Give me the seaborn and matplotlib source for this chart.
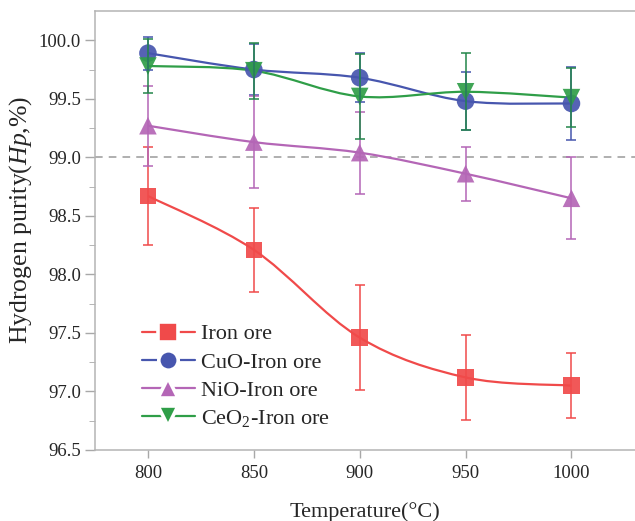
import numpy as np
import pandas as pd
import matplotlib
matplotlib.use("Agg")
import matplotlib.pyplot as plt
from matplotlib.path import Path
from matplotlib.patches import PathPatch
from matplotlib.lines import Line2D
import seaborn as sns

temps = [800, 850, 900, 950, 1000]
series_names = ["Iron ore", "CuO-Iron ore", "NiO-Iron ore", "CeO$_2$-Iron ore"]
iron = [98.67, 98.21, 97.46, 97.12, 97.05]
iron_err = [0.42, 0.36, 0.45, 0.36, 0.28]
cuo = [99.89, 99.75, 99.68, 99.48, 99.46]
cuo_err = [0.14, 0.22, 0.21, 0.25, 0.31]
nio = [99.27, 99.13, 99.04, 98.86, 98.65]
nio_err = [0.34, 0.39, 0.35, 0.23, 0.35]
ceo2 = [99.78, 99.74, 99.52, 99.56, 99.51]
ceo2_err = [0.23, 0.24, 0.36, 0.33, 0.25]
threshold = 99.0
yticks = [96.5, 97.0, 97.5, 98.0, 98.5, 99.0, 99.5, 100.0]

colors = ["#F04A4A", "#4756AE", "#B466B6", "#2F9E48"]
ecolors = ["#F04A4A", "#4756AE", "#B466B6", "#23864A"]
markers = ["s", "o", "^", "v"]
sizes = [140, 160, 160, 160]

sns.set_style("ticks")
plt.rcParams["font.family"] = ["Liberation Serif", "DejaVu Serif"]
plt.rcParams["mathtext.fontset"] = "custom"
plt.rcParams["mathtext.rm"] = "Liberation Serif"
plt.rcParams["mathtext.it"] = "Liberation Serif:italic"

vals = [iron, cuo, nio, ceo2]
errs = [iron_err, cuo_err, nio_err, ceo2_err]
df = pd.DataFrame({
    "T": temps * 4,
    "Hp": sum(vals, []),
    "err": sum(errs, []),
    "series": sum([[n] * len(temps) for n in series_names], []),
})

fig = plt.figure(figsize=(6.35, 5.21), dpi=100)
ax = fig.add_axes([0.1496, 0.1363, 0.8504, 0.8426])

ax.axhline(threshold, color="#9a9a9a", lw=1.1, ls=(0, (5, 4)), zorder=1)


def smooth_path(xs, ys):
    pts = np.column_stack([xs, ys]).astype(float)
    n = len(pts)
    verts = [pts[0]]
    codes = [Path.MOVETO]
    for i in range(n - 1):
        p0 = pts[i - 1] if i > 0 else pts[i]
        p1 = pts[i]
        p2 = pts[i + 1]
        p3 = pts[i + 2] if i + 2 < n else pts[i + 1]
        c1 = p1 + (p2 - p0) / 6.0
        c2 = p2 - (p3 - p1) / 6.0
        verts += [c1, c2, p2]
        codes += [Path.CURVE4] * 3
    return Path(verts, codes)


for name, c in zip(series_names, colors):
    sub = df[df.series == name]
    patch = PathPatch(smooth_path(sub["T"].values, sub["Hp"].values),
                      facecolor="none", edgecolor=c, lw=1.6, zorder=2)
    ax.add_patch(patch)

for name, c, m, s in zip(series_names, colors, markers, sizes):
    sub = df[df.series == name]
    sns.scatterplot(data=sub, x="T", y="Hp", color=c, marker=m, s=s,
                    edgecolor="none", alpha=0.92, ax=ax, zorder=3, legend=False)

for name, ec in zip(series_names, ecolors):
    sub = df[df.series == name]
    ax.errorbar(sub["T"], sub["Hp"], yerr=sub["err"], fmt="none", ecolor=ec,
                elinewidth=1.1, capsize=3.6, capthick=1.1, zorder=4)

ax.set_xlim(775, 1030)
ax.set_ylim(96.5, 100.25)
ax.set_xticks(temps)
ax.set_yticks(yticks)
ax.set_yticklabels([f"{v:.1f}" for v in yticks])
ax.set_yticks(np.arange(96.75, 100.1, 0.5), minor=True)
ax.tick_params(axis="both", labelsize=13.5, color="#a8a8a8", width=1.0)
ax.tick_params(axis="y", which="major", length=7, pad=3)
ax.tick_params(axis="y", which="minor", length=4, color="#a8a8a8")
ax.tick_params(axis="x", which="major", length=6, pad=5)
for sp in ["left", "bottom", "top"]:
    ax.spines[sp].set_color("#b4b4b4")
    ax.spines[sp].set_linewidth(1.1)
ax.spines["right"].set_visible(False)

ax.set_xlabel("Temperature(°C)", fontsize=16, labelpad=14)
ax.set_ylabel(r"Hydrogen purity($\mathit{Hp}$,%)", fontsize=18.5)
ax.yaxis.set_label_coords(-0.113, 0.524)

handles = [Line2D([0], [0], color=c, lw=1.6, marker=m, markersize=14,
                  markeredgecolor="white", markeredgewidth=2.6)
           for c, m in zip(colors, markers)]
ax.legend(handles, series_names, loc="lower left", bbox_to_anchor=(0.07, 0.027),
          frameon=False, fontsize=16, handlelength=2.4, handletextpad=0.25,
          labelspacing=0.34, borderaxespad=0.0)

fig.savefig("out.png", dpi=100)
